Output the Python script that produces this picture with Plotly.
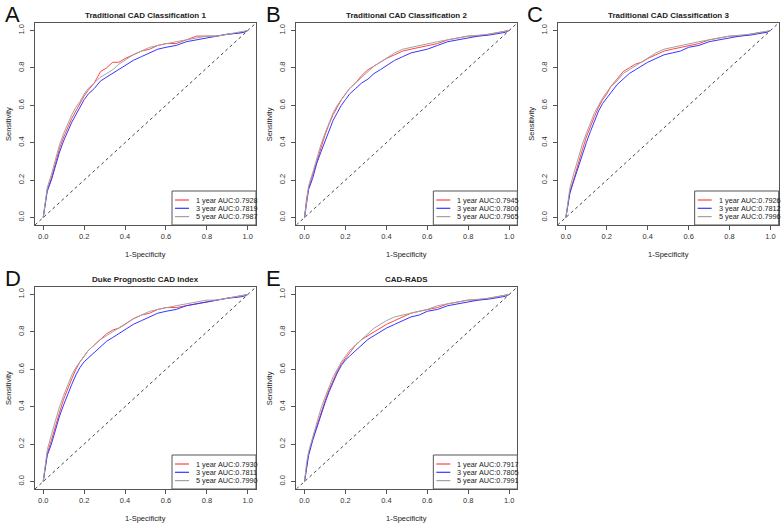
import plotly.graph_objects as go

# ---------------- data ----------------
FPR = [0, 0.01, 0.02, 0.04, 0.06, 0.08, 0.10, 0.12, 0.14, 0.16, 0.18, 0.20, 0.22,
       0.25, 0.28, 0.31, 0.34, 0.37, 0.40, 0.44, 0.48, 0.52, 0.56, 0.60, 0.65,
       0.70, 0.75, 0.80, 0.85, 0.90, 0.95, 0.98, 1.0]

A_1y = [0, 0.09, 0.15, 0.21, 0.29, 0.37, 0.43, 0.48, 0.53, 0.57, 0.61, 0.65, 0.68, 0.72, 0.78, 0.80, 0.83,
        0.83, 0.85, 0.87, 0.89, 0.90, 0.92, 0.93, 0.93, 0.95, 0.97, 0.97, 0.97, 0.98, 0.985, 0.99, 1.0]
A_3y = [0, 0.08, 0.14, 0.20, 0.28, 0.35, 0.41, 0.46, 0.51, 0.55, 0.59, 0.63, 0.66, 0.69, 0.73, 0.75, 0.77,
        0.79, 0.81, 0.84, 0.86, 0.88, 0.90, 0.91, 0.92, 0.94, 0.95, 0.96, 0.97, 0.98, 0.985, 0.99, 1.0]
A_5y = [0, 0.09, 0.16, 0.23, 0.31, 0.39, 0.45, 0.50, 0.55, 0.59, 0.62, 0.66, 0.69, 0.72, 0.75, 0.77, 0.79,
        0.82, 0.84, 0.87, 0.89, 0.91, 0.92, 0.93, 0.94, 0.95, 0.96, 0.97, 0.97, 0.98, 0.99, 0.995, 1.0]

B_1y = [0, 0.10, 0.16, 0.23, 0.31, 0.38, 0.44, 0.50, 0.55, 0.59, 0.63, 0.66, 0.69, 0.72, 0.76, 0.79, 0.81,
        0.83, 0.85, 0.87, 0.89, 0.90, 0.91, 0.92, 0.93, 0.95, 0.96, 0.97, 0.97, 0.98, 0.99, 0.995, 1.0]
B_3y = [0, 0.09, 0.15, 0.21, 0.29, 0.35, 0.41, 0.47, 0.52, 0.56, 0.60, 0.63, 0.66, 0.69, 0.72, 0.74, 0.77,
        0.79, 0.81, 0.84, 0.86, 0.88, 0.89, 0.90, 0.92, 0.94, 0.95, 0.96, 0.97, 0.975, 0.985, 0.99, 1.0]
B_5y = [0, 0.10, 0.17, 0.24, 0.32, 0.39, 0.45, 0.51, 0.56, 0.60, 0.63, 0.66, 0.69, 0.72, 0.75, 0.78, 0.81,
        0.83, 0.85, 0.88, 0.90, 0.91, 0.92, 0.93, 0.94, 0.95, 0.96, 0.97, 0.975, 0.98, 0.99, 0.995, 1.0]

C_1y = [0, 0.08, 0.14, 0.21, 0.29, 0.36, 0.43, 0.49, 0.54, 0.59, 0.63, 0.66, 0.70, 0.74, 0.78, 0.80, 0.82,
        0.83, 0.85, 0.87, 0.89, 0.90, 0.91, 0.92, 0.93, 0.95, 0.96, 0.97, 0.97, 0.98, 0.99, 0.99, 1.0]
C_3y = [0, 0.07, 0.13, 0.20, 0.27, 0.34, 0.40, 0.46, 0.52, 0.57, 0.61, 0.64, 0.67, 0.71, 0.74, 0.77, 0.79,
        0.81, 0.83, 0.85, 0.87, 0.88, 0.89, 0.91, 0.92, 0.94, 0.95, 0.96, 0.97, 0.975, 0.985, 0.99, 1.0]
C_5y = [0, 0.09, 0.16, 0.24, 0.32, 0.39, 0.45, 0.51, 0.56, 0.60, 0.64, 0.67, 0.70, 0.73, 0.77, 0.79, 0.81,
        0.83, 0.85, 0.88, 0.90, 0.91, 0.92, 0.93, 0.94, 0.95, 0.96, 0.97, 0.975, 0.98, 0.99, 0.995, 1.0]

D_1y = [0, 0.09, 0.15, 0.22, 0.30, 0.37, 0.44, 0.50, 0.55, 0.60, 0.64, 0.67, 0.70, 0.73, 0.76, 0.79, 0.81,
        0.82, 0.84, 0.87, 0.89, 0.90, 0.92, 0.93, 0.93, 0.94, 0.95, 0.96, 0.97, 0.98, 0.99, 0.995, 1.0]
D_3y = [0, 0.08, 0.14, 0.20, 0.28, 0.35, 0.41, 0.47, 0.52, 0.57, 0.61, 0.64, 0.66, 0.69, 0.72, 0.75, 0.77,
        0.79, 0.81, 0.84, 0.86, 0.88, 0.90, 0.91, 0.92, 0.94, 0.95, 0.96, 0.97, 0.98, 0.985, 0.99, 1.0]
D_5y = [0, 0.10, 0.17, 0.25, 0.33, 0.40, 0.46, 0.52, 0.57, 0.61, 0.64, 0.67, 0.70, 0.73, 0.76, 0.78, 0.80,
        0.82, 0.84, 0.87, 0.89, 0.91, 0.92, 0.93, 0.94, 0.95, 0.96, 0.97, 0.97, 0.98, 0.99, 0.995, 1.0]

E_1y = [0, 0.09, 0.15, 0.23, 0.30, 0.37, 0.43, 0.49, 0.54, 0.59, 0.63, 0.66, 0.69, 0.73, 0.76, 0.78, 0.80,
        0.82, 0.84, 0.86, 0.88, 0.90, 0.91, 0.92, 0.93, 0.95, 0.96, 0.97, 0.97, 0.98, 0.99, 0.995, 1.0]
E_3y = [0, 0.08, 0.14, 0.22, 0.29, 0.36, 0.42, 0.48, 0.53, 0.58, 0.62, 0.65, 0.67, 0.70, 0.73, 0.76, 0.78,
        0.80, 0.82, 0.84, 0.86, 0.88, 0.89, 0.91, 0.92, 0.94, 0.95, 0.96, 0.97, 0.975, 0.985, 0.99, 1.0]
E_5y = [0, 0.10, 0.16, 0.24, 0.32, 0.39, 0.45, 0.51, 0.56, 0.60, 0.64, 0.67, 0.70, 0.73, 0.76, 0.79, 0.82,
        0.84, 0.86, 0.88, 0.89, 0.90, 0.91, 0.92, 0.94, 0.95, 0.96, 0.97, 0.975, 0.98, 0.99, 0.995, 1.0]

LETTERS = ["A", "B", "C", "D", "E"]
TITLES = ["Traditional CAD Classification 1", "Traditional CAD Classification 2",
          "Traditional CAD Classification 3", "Duke Prognostic CAD Index", "CAD-RADS"]
AUC_1Y = ["0.7928", "0.7945", "0.7926", "0.7930", "0.7917"]
AUC_3Y = ["0.7819", "0.7800", "0.7812", "0.7811", "0.7805"]
AUC_5Y = ["0.7987", "0.7965", "0.7996", "0.7990", "0.7991"]
SERIES_NAMES = ["1 year", "3 year", "5 year"]
TICK_VALUES = [0, 0.2, 0.4, 0.6, 0.8, 1.0]
TICK_LABELS = ["0.0", "0.2", "0.4", "0.6", "0.8", "1.0"]
CURVES = [(A_1y, A_3y, A_5y), (B_1y, B_3y, B_5y), (C_1y, C_3y, C_5y),
          (D_1y, D_3y, D_5y), (E_1y, E_3y, E_5y)]
AUCS = list(zip(AUC_1Y, AUC_3Y, AUC_5Y))

for trip in CURVES:
    for c in trip:
        assert len(c) == len(FPR)

# ---------------- layout / style ----------------
W, H = 784, 528
COLORS = ["#FF4545", "#3535FF", "#A3A3A3"]
FONT = "Liberation Sans, Arial, sans-serif"
TXT = "#222222"
AX = "#555555"
RNG = [-0.04, 1.04]
COL_OFF = [0, W / 3, 2 * W / 3]
ROW_OFF = [0, 264]
BX0, BX1, BY0, BY1 = 35, 256, 23, 225  # plot box inside a panel (px)


def px(x):
    return x / W


def py(y):
    return 1 - y / H


fig = go.Figure()
annotations = []
shapes = []

for i in range(5):
    r, c = divmod(i, 3)
    ox, oy = COL_OFF[c], ROW_OFF[r]
    n = "" if i == 0 else str(i + 1)
    xa, ya = "x" + n, "y" + n
    axis_common = dict(range=RNG, tickvals=TICK_VALUES, ticktext=TICK_LABELS,
                       ticks="outside", ticklen=4, tickwidth=1, tickcolor=AX,
                       showline=True, mirror=True, linecolor=AX, linewidth=1,
                       showgrid=False, zeroline=False,
                       tickfont=dict(family=FONT, size=7.5, color="#333333"))
    fig.layout["xaxis" + n] = dict(axis_common, domain=[px(ox + BX0), px(ox + BX1)], anchor=ya)
    fig.layout["yaxis" + n] = dict(axis_common, domain=[py(oy + BY1), py(oy + BY0)], anchor=xa,
                                   tickangle=-90, ticklabelstandoff=3)

    for k in (0, 1, 2):
        fig.add_trace(go.Scatter(x=FPR, y=CURVES[i][k], xaxis=xa, yaxis=ya, mode="lines",
                                 line=dict(color=COLORS[k], width=1), showlegend=False,
                                 hoverinfo="skip"))

    # diagonal reference line across the whole plot box
    shapes.append(dict(type="line", xref=xa, yref=ya, x0=RNG[0], y0=RNG[0], x1=RNG[1], y1=RNG[1],
                       line=dict(color="#444444", width=1, dash="3px,3px"), layer="below"))

    # panel letter
    annotations.append(dict(text=LETTERS[i], x=px(ox + 2.5), y=py(oy + 14.5), xref="paper", yref="paper",
                            xanchor="left", yanchor="middle", showarrow=False,
                            font=dict(family=FONT, size=22, color="#111111")))
    # title
    annotations.append(dict(text="<b>" + TITLES[i] + "</b>", x=px(ox + (BX0 + BX1) / 2), y=py(oy + 15),
                            xref="paper", yref="paper", xanchor="center", yanchor="middle",
                            showarrow=False, font=dict(family=FONT, size=8, color=TXT)))
    # axis titles
    annotations.append(dict(text="1-Specificity", x=px(ox + (BX0 + BX1) / 2), y=py(oy + 254.5),
                            xref="paper", yref="paper", xanchor="center", yanchor="middle",
                            showarrow=False, font=dict(family=FONT, size=7.5, color=TXT)))
    annotations.append(dict(text="Sensitivity", x=px(ox + 8), y=py(oy + (BY0 + BY1) / 2),
                            xref="paper", yref="paper", xanchor="center", yanchor="middle",
                            textangle=-90, showarrow=False,
                            font=dict(family=FONT, size=7.5, color=TXT)))

    # legend (bottom-right, flush with the plot box)
    lx0, lx1, ly0, ly1 = ox + 172, ox + BX1, oy + 191, oy + BY1
    shapes.append(dict(type="rect", xref="paper", yref="paper", x0=px(lx0), x1=px(lx1),
                       y0=py(ly1), y1=py(ly0), line=dict(color=AX, width=1),
                       fillcolor="white", layer="above"))
    for k in range(3):
        yy = oy + 200 + 8.3 * k
        shapes.append(dict(type="line", xref="paper", yref="paper", x0=px(ox + 175), x1=px(ox + 189),
                           y0=py(yy), y1=py(yy), line=dict(color=COLORS[k], width=1.2),
                           layer="above"))
        annotations.append(dict(text=f"{SERIES_NAMES[k]} AUC:{AUCS[i][k]}", x=px(ox + 194),
                                y=py(yy), xref="paper", yref="paper", xanchor="left",
                                yanchor="middle", showarrow=False,
                                font=dict(family=FONT, size=7.3, color=TXT)))

fig.update_layout(width=W, height=H, margin=dict(l=0, r=0, t=0, b=0),
                  paper_bgcolor="white", plot_bgcolor="white",
                  annotations=annotations, shapes=shapes, showlegend=False)

fig.write_html("out.html", config={"displayModeBar": False},
               post_script="document.body.style.margin='0';document.body.style.overflow='hidden';")
